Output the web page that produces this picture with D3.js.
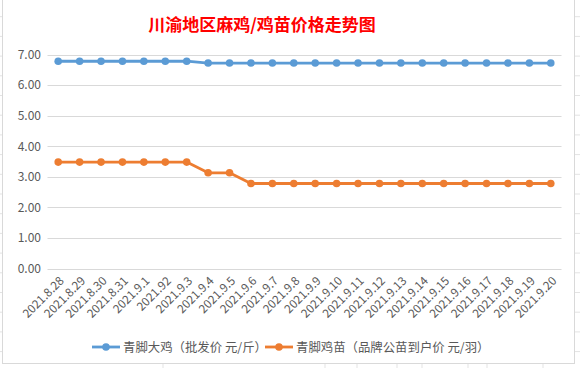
<!DOCTYPE html>
<html><head><meta charset="utf-8">
<script src="https://cdn.jsdelivr.net/npm/d3@7"></script>
<style>html,body{margin:0;padding:0;background:#fff;}svg{display:block;}</style>
</head><body>
<svg id="c" width="580" height="368"></svg>
<script>
const categories = ["2021.8.28","2021.8.29","2021.8.30","2021.8.31","2021.9.1","2021.92","2021.9.3","2021.9.4","2021.9.5","2021.9.6","2021.9.7","2021.9.8","2021.9.9","2021.9.10","2021.9.11","2021.9.12","2021.9.13","2021.9.14","2021.9.15","2021.9.16","2021.9.17","2021.9.18","2021.9.19","2021.9.20"];
const bigChicken = [6.78,6.78,6.78,6.78,6.78,6.78,6.78,6.72,6.72,6.72,6.72,6.72,6.72,6.72,6.72,6.72,6.72,6.72,6.72,6.72,6.72,6.72,6.72,6.72];
const chickSeed = [3.48,3.48,3.48,3.48,3.48,3.48,3.48,3.13,3.13,2.78,2.78,2.78,2.78,2.78,2.78,2.78,2.78,2.78,2.78,2.78,2.78,2.78,2.78,2.78];
const yTicks = [0,1,2,3,4,5,6,7];
const seriesNames = ["青脚大鸡（批发价 元/斤）","青脚鸡苗（品牌公苗到户价 元/羽）"];
const title = "川渝地区麻鸡/鸡苗价格走势图";

const svg = d3.select("#c");
const font = "'Noto Sans CJK SC','Noto Sans',sans-serif";
const colors = ["#5B9BD5","#ED7D31"];

// spreadsheet background grid
const bg = svg.append("g");
d3.range(-3, 368, 19.7).forEach(y => bg.append("line").attr("x1",0).attr("x2",580).attr("y1",y).attr("y2",y).attr("stroke","#e3e3e3").attr("stroke-width",1));
[163, 357, 422, 487, 543, 325, 397, 468].forEach(x => bg.append("line").attr("x1",x).attr("x2",x).attr("y1",0).attr("y2",368).attr("stroke","#e3e3e3"));

// chart area
svg.append("rect").attr("x",2.5).attr("y",-1).attr("width",572).attr("height",364.5)
  .attr("fill","#fff").attr("stroke","#d9d9d9");

const x = d3.scalePoint().domain(categories).range([47.5, 561.5]).padding(0.5);
const y = d3.scaleLinear().domain([0,7]).range([268.5, 54.5]);

// gridlines
svg.append("g").selectAll("line").data(yTicks).join("line")
  .attr("x1",47.5).attr("x2",561.5).attr("y1",d=>Math.round(y(d))+0.5).attr("y2",d=>Math.round(y(d))+0.5)
  .attr("stroke","#d9d9d9");

// y axis labels
const ya = svg.append("g").attr("transform","translate(41,0)")
  .call(d3.axisLeft(y).tickValues(yTicks).tickFormat(d3.format(".2f")).tickSize(0).tickPadding(0));
ya.select(".domain").remove();
ya.selectAll("text").attr("font-family",font).attr("font-size",12).attr("fill","#595959");

// x axis labels
const xa = svg.append("g").attr("transform","translate(0,268.5)")
  .call(d3.axisBottom(x).tickSize(0));
xa.select(".domain").remove();
xa.selectAll("text").attr("font-family",font).attr("font-size",11.8).attr("fill","#595959")
  .attr("text-anchor","end").attr("dy",0).attr("y",0)
  .attr("transform","translate(6,13) rotate(-45)");

// lines
[bigChicken, chickSeed].forEach((vals,i)=>{
  const g = svg.append("g");
  g.append("path").datum(vals)
    .attr("d", d3.line().x((d,j)=>x(categories[j])).y(d=>y(d)))
    .attr("fill","none").attr("stroke",colors[i]).attr("stroke-width",2.8).attr("stroke-linejoin","round");
  g.selectAll("circle").data(vals).join("circle")
    .attr("cx",(d,j)=>x(categories[j])).attr("cy",d=>y(d)).attr("r",3.8).attr("fill",colors[i]);
});

// title
svg.append("text").attr("x",262).attr("y",31).attr("text-anchor","middle")
  .attr("font-family",font).attr("font-weight","bold").attr("font-size",17).attr("fill","#FF0000")
  .text(title);

// legend
const legX = [92, 265];
seriesNames.forEach((n,i)=>{
  const g = svg.append("g").attr("transform",`translate(${legX[i]},347)`);
  g.append("line").attr("x1",0).attr("x2",28).attr("y1",0).attr("y2",0).attr("stroke",colors[i]).attr("stroke-width",2.8);
  g.append("circle").attr("cx",14).attr("cy",0).attr("r",3.8).attr("fill",colors[i]);
  g.append("text").attr("x",31).attr("y",4.5).attr("font-family",font).attr("font-size",12.4).attr("fill","#595959").text(n);
});
</script>
</body></html>
